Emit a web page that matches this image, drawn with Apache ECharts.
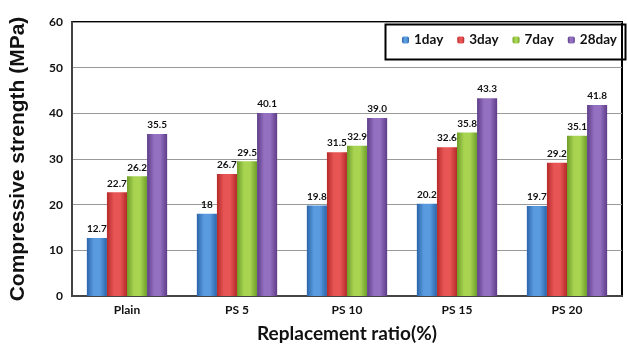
<!DOCTYPE html>
<html><head><meta charset="utf-8">
<script src="https://cdn.jsdelivr.net/npm/echarts@6/dist/echarts.min.js"></script>
<style>html,body{margin:0;padding:0;background:#fff}#c{width:628px;height:349px}</style>
</head><body><div id="c"></div>
<script>
const categories = ['Plain', 'PS 5', 'PS 10', 'PS 15', 'PS 20'];
const seriesNames = ['1day', '3day', '7day', '28day'];
const day1 = [12.7, 18, 19.8, 20.2, 19.7];
const day3 = [22.7, 26.7, 31.5, 32.6, 29.2];
const day7 = [26.2, 29.5, 32.9, 35.8, 35.1];
const day28 = [35.5, 40.1, 39.0, 43.3, 41.8];
const labels1 = ['12.7', '18', '19.8', '20.2', '19.7'];
const labels3 = ['22.7', '26.7', '31.5', '32.6', '29.2'];
const labels7 = ['26.2', '29.5', '32.9', '35.8', '35.1'];
const labels28 = ['35.5', '40.1', '39.0', '43.3', '41.8'];
const yTicks = [0, 10, 20, 30, 40, 50, 60];

const palette = [
  ['#2a64a8', '#5a9be0'],
  ['#b52a2a', '#e85555'],
  ['#6e9e28', '#a8d452'],
  ['#5e3c88', '#9470c0']
];
function grad(p) {
  return new echarts.graphic.LinearGradient(0, 0, 1, 0, [
    {offset: 0, color: p[0]}, {offset: 0.35, color: p[1]}, {offset: 0.65, color: p[1]}, {offset: 1, color: p[0]}
  ]);
}
const allData = [day1, day3, day7, day28];
const allLabels = [labels1, labels3, labels7, labels28];
const font = 'Lato, "Open Sans", sans-serif';

const chart = echarts.init(document.getElementById('c'));
chart.setOption({
  animation: false,
  grid: {left: 70, right: 6, top: 22, bottom: 53, show: true, borderColor: '#000', borderWidth: 2, backgroundColor: 'transparent'},
  legend: {
    left: 402, top: 33, width: 226, padding: 0, itemWidth: 7, itemHeight: 7, itemGap: 14,
    data: seriesNames,
    textStyle: {fontFamily: font, fontWeight: 'bold', fontSize: 13.5, color: '#111'}
  },
  graphic: [{
    type: 'rect', left: 383, top: 22, z: 10,
    shape: {width: 240, height: 35},
    style: {fill: 'none', stroke: '#000', lineWidth: 2}
  }],
  xAxis: {
    type: 'category', data: categories,
    name: 'Replacement ratio(%)', nameLocation: 'middle', nameGap: 28,
    nameTextStyle: {fontFamily: font, fontWeight: 'bold', fontSize: 19, color: '#111'},
    axisLine: {lineStyle: {color: '#444', width: 2}},
    axisTick: {show: false},
    axisLabel: {fontFamily: font, fontWeight: 'bold', fontSize: 12, color: '#111', margin: 8}
  },
  yAxis: {
    type: 'value', min: 0, max: 60, interval: 10,
    name: 'Compressive strength (MPa)', nameLocation: 'middle', nameGap: 43,
    nameTextStyle: {fontFamily: 'Liberation Sans, Arial, sans-serif', fontWeight: 'bold', fontSize: 21, color: '#111'},
    axisLine: {show: true, lineStyle: {color: '#444', width: 2}},
    axisTick: {show: false},
    axisLabel: {fontFamily: font, fontWeight: 'bold', fontSize: 12, color: '#111', margin: 9,
      formatter: v => yTicks.includes(v) ? String(v) : ''},
    splitLine: {lineStyle: {color: '#999', width: 1}}
  },
  series: seriesNames.map((n, i) => ({
    name: n, type: 'bar', data: allData[i],
    barGap: '0%', barCategoryGap: '27%',
    itemStyle: {color: grad(palette[i])},
    label: {
      show: true, position: 'top', distance: 4,
      fontFamily: font, fontWeight: 'bold', fontSize: 10, color: '#111',
      formatter: p => allLabels[i][p.dataIndex]
    }
  }))
});
</script>
</body></html>
